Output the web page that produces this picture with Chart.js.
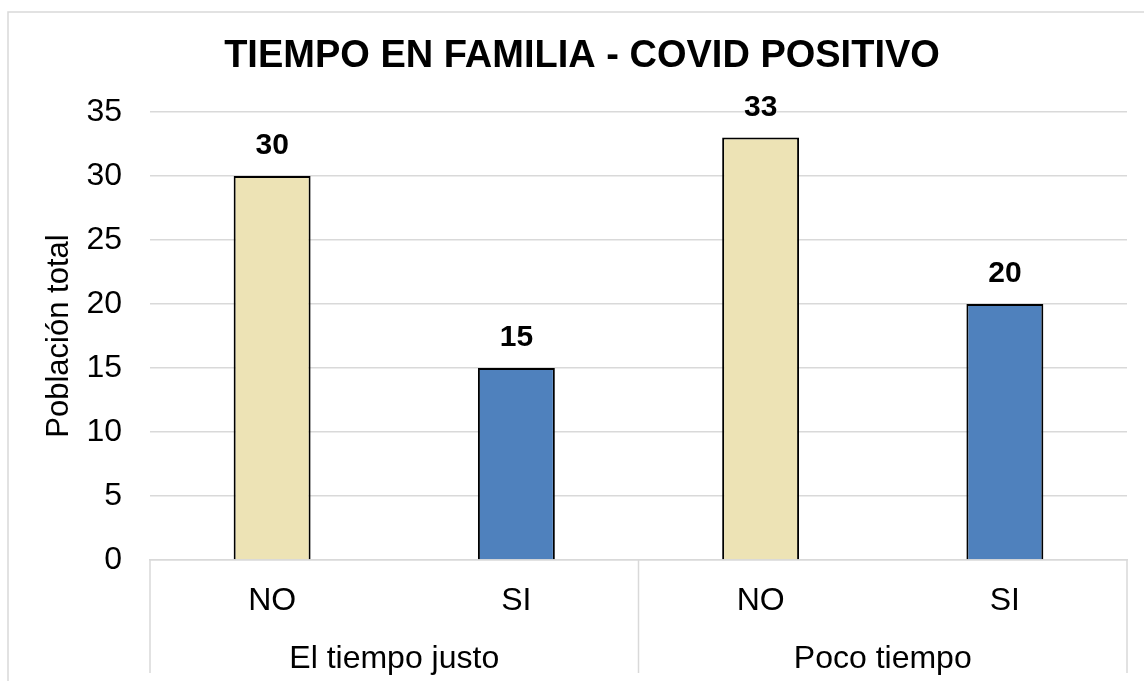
<!DOCTYPE html>
<html>
<head>
<meta charset="utf-8">
<script src="https://cdn.jsdelivr.net/npm/chart.js@4"></script>
<style>
    html, body { margin: 0; padding: 0; background: #ffffff; }
    #wrap { width: 1144px; height: 681px; }
</style>
</head>
<body>
<div id="wrap"><canvas id="tiempoChart" width="1144" height="681"></canvas></div>
<script>
// Tiempo en familia - Covid positivo

const titulo = 'TIEMPO EN FAMILIA - COVID POSITIVO';
const categorias = ['NO', 'SI', 'NO', 'SI'];
const grupos = ['El tiempo justo', 'Poco tiempo'];
const poblacion = [30, 15, 33, 20];
const coloresBarra = ['#EDE3B5', '#4F81BD', '#EDE3B5', '#4F81BD'];

const FUENTE = '"Liberation Sans", Arial, sans-serif';
const GRIS = '#d9d9d9';

// marco exterior gris claro + titulo
const marcoPlugin = {
    id: 'marco',
    beforeDraw(chart) {
        const c = chart.ctx;
        c.save();
        c.strokeStyle = GRIS;
        c.lineWidth = 1.5;
        c.beginPath();
        c.moveTo(8, 700);
        c.lineTo(8, 12);
        c.lineTo(1160, 12);
        c.stroke();
        c.font = 'bold 38px ' + FUENTE;
        c.fillStyle = '#000';
        c.textAlign = 'center';
        c.textBaseline = 'middle';
        c.fillText(titulo, 582, 57);
        c.restore();
    }
};

// etiquetas de valor encima de cada barra
const valoresPlugin = {
    id: 'valores',
    afterDatasetsDraw(chart) {
        const c = chart.ctx;
        const meta = chart.getDatasetMeta(0);
        c.save();
        c.font = 'bold 30px ' + FUENTE;
        c.fillStyle = '#000';
        c.textAlign = 'center';
        c.textBaseline = 'middle';
        meta.data.forEach((bar, i) => {
            c.fillText(String(poblacion[i]), bar.x, bar.y - 30);
        });
        c.restore();
    }
};

// segundo nivel del eje x: grupos y separadores
const gruposPlugin = {
    id: 'grupos',
    afterDraw(chart) {
        const c = chart.ctx;
        const x = chart.scales.x;
        const top = chart.chartArea.bottom;
        const porGrupo = categorias.length / grupos.length;
        c.save();
        c.strokeStyle = GRIS;
        c.lineWidth = 1.5;
        for (let g = 0; g <= grupos.length; g++) {
            const px = x.getPixelForValue(g * porGrupo - 0.5);
            c.beginPath();
            c.moveTo(px, top);
            c.lineTo(px, 673);
            c.stroke();
        }
        c.font = '32px ' + FUENTE;
        c.fillStyle = '#000';
        c.textAlign = 'center';
        c.textBaseline = 'middle';
        grupos.forEach((g, i) => {
            const a = x.getPixelForValue(i * porGrupo - 0.5);
            const b = x.getPixelForValue((i + 1) * porGrupo - 0.5);
            c.fillText(g, (a + b) / 2, 659);
        });
        c.restore();
    }
};

new Chart(document.getElementById('tiempoChart'), {
    type: 'bar',
    data: {
        labels: categorias,
        datasets: [{
            data: poblacion,
            backgroundColor: coloresBarra,
            borderColor: '#000',
            borderWidth: 2,
            barPercentage: 0.315,
            categoryPercentage: 1
        }]
    },
    options: {
        responsive: false,
        animation: false,
        layout: {
            padding: { left: 0, right: 17, top: 112, bottom: 0 }
        },
        plugins: {
            legend: { display: false },
            tooltip: { enabled: false },
            title: { display: false }
        },
        scales: {
            y: {
                min: 0,
                max: 35,
                ticks: {
                    stepSize: 5,
                    color: '#000',
                    padding: 28,
                    font: { family: FUENTE, size: 32 }
                },
                grid: {
                    color: GRIS,
                    lineWidth: 1.5,
                    drawTicks: false
                },
                border: { display: false },
                title: {
                    display: true,
                    text: 'Población total',
                    color: '#000',
                    font: { family: FUENTE, size: 31 },
                    padding: { top: 41, bottom: 0 }
                },
                afterFit(scale) { scale.width = 150; }
            },
            x: {
                ticks: {
                    color: '#000',
                    padding: 22,
                    font: { family: FUENTE, size: 32 }
                },
                grid: { display: false, drawTicks: false },
                border: { display: true, color: GRIS, width: 1.5 },
                afterFit(scale) { scale.height = 121; }
            }
        }
    },
    plugins: [marcoPlugin, valoresPlugin, gruposPlugin]
});
</script>
</body>
</html>
